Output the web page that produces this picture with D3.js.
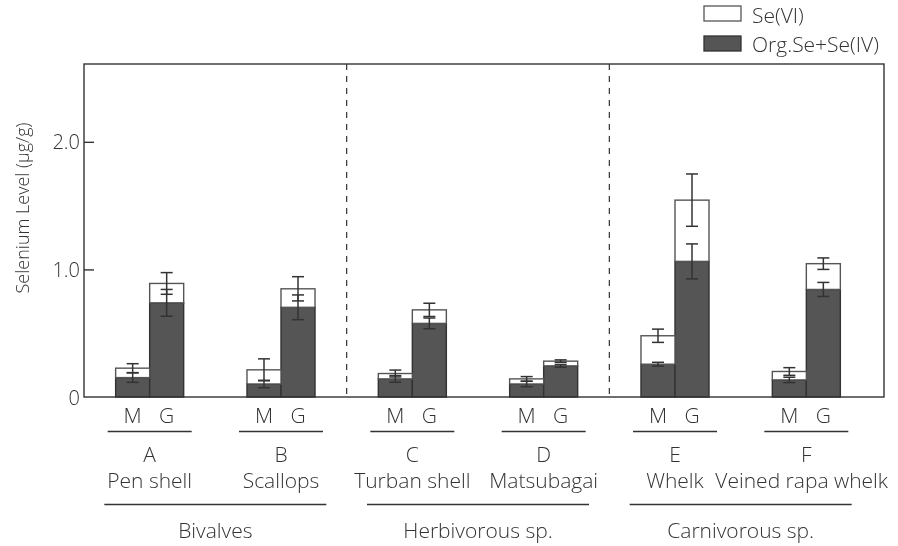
<!DOCTYPE html>
<html>
<head>
<meta charset="utf-8">
<script src="https://cdn.jsdelivr.net/npm/d3@7"></script>
<style>
body { margin: 0; background: #fff; }
svg { will-change: transform; -webkit-font-smoothing: antialiased; }
text { font-family: "Open Sans", sans-serif; font-weight: 300; fill: #333; }
</style>
</head>
<body>
<div id="chart"></div>
<script>
// data
var species = ["A", "B", "C", "D", "E", "F"];
var speciesNames = ["Pen shell", "Scallops", "Turban shell", "Matsubagai", "Whelk", "Veined rapa whelk"];
var tissues = ["M", "G"];
var groups = ["Bivalves", "Herbivorous sp.", "Carnivorous sp."];
var groupMembers = [["A", "B"], ["C", "D"], ["E", "F"]];
var seriesNames = ["Se(VI)", "Org.Se+Se(IV)"];

// Org.Se+Se(IV) (dark part), M and G
var orgM = [0.152, 0.102, 0.142, 0.102, 0.257, 0.134];
var orgG = [0.738, 0.703, 0.577, 0.244, 1.063, 0.843];
// Se(VI) (white part stacked on top)
var seviM = [0.074, 0.111, 0.042, 0.040, 0.223, 0.066];
var seviG = [0.152, 0.145, 0.106, 0.037, 0.480, 0.202];
// error bars: on the dark part and on the total
var orgErrM = [0.037, 0.029, 0.026, 0.021, 0.015, 0.021];
var orgErrG = [0.105, 0.097, 0.042, 0.010, 0.137, 0.055];
var totErrM = [0.035, 0.086, 0.027, 0.018, 0.052, 0.030];
var totErrG = [0.085, 0.095, 0.052, 0.010, 0.205, 0.045];

var yTicks = [0, 1, 2];

var W = 898, H = 546;
var frame = {left: 84, right: 884, top: 64, bottom: 397};

var svg = d3.select("#chart").append("svg")
    .attr("width", W)
    .attr("height", H);

// build rows, one per bar
var rows = [];
species.forEach(function(s, i) {
  rows.push({species: s, tissue: "M", org: orgM[i], sevi: seviM[i], orgErr: orgErrM[i], totErr: totErrM[i]});
  rows.push({species: s, tissue: "G", org: orgG[i], sevi: seviG[i], orgErr: orgErrG[i], totErr: totErrG[i]});
});

// scales
var x0 = d3.scaleBand()
    .domain(species)
    .range([frame.left, frame.left + 788])
    .paddingInner(0.482)
    .paddingOuter(0.241);
var x1 = d3.scaleBand()
    .domain(tissues)
    .range([0, x0.bandwidth()]);
var y = d3.scaleLinear()
    .domain([0, 2.61])
    .range([frame.bottom, frame.top]);

// dashed separators between the groups
var sepX = [
  (x0("B") + x0.bandwidth() + x0("C")) / 2,
  (x0("D") + x0.bandwidth() + x0("E")) / 2
];
svg.selectAll("line.sep")
  .data(sepX)
  .enter().append("line")
    .attr("x1", function(d) { return d; })
    .attr("x2", function(d) { return d; })
    .attr("y1", frame.top)
    .attr("y2", frame.bottom)
    .attr("stroke", "#333")
    .attr("stroke-width", 1.2)
    .attr("stroke-dasharray", "6,6");

// stacked bars
var stacked = d3.stack().keys(["org", "sevi"])(rows);
var fills = {org: "#555555", sevi: "#ffffff"};
var strokes = {org: "#333333", sevi: "#555555"};

svg.append("g")
  .selectAll("g")
  .data(stacked)
  .enter().append("g")
    .attr("fill", function(d) { return fills[d.key]; })
    .attr("stroke", function(d) { return strokes[d.key]; })
    .attr("stroke-width", 1.4)
    .selectAll("rect")
    .data(function(d) { return d; })
    .enter().append("rect")
      .attr("x", function(d) { return x0(d.data.species) + x1(d.data.tissue); })
      .attr("y", function(d) { return y(d[1]); })
      .attr("width", x1.bandwidth())
      .attr("height", function(d) { return y(d[0]) - y(d[1]); });

// error bars
var errs = [];
rows.forEach(function(r) {
  errs.push({r: r, v: r.org, e: r.orgErr});
  errs.push({r: r, v: r.org + r.sevi, e: r.totErr});
});
var capW = 12;
var eg = svg.append("g")
    .attr("stroke", "#333")
    .attr("stroke-width", 1.5)
  .selectAll("g")
  .data(errs)
  .enter().append("g")
    .attr("transform", function(d) {
      return "translate(" + (x0(d.r.species) + x1(d.r.tissue) + x1.bandwidth() / 2) + ",0)";
    });
eg.append("line")
    .attr("y1", function(d) { return y(d.v - d.e); })
    .attr("y2", function(d) { return y(d.v + d.e); });
eg.append("line")
    .attr("x1", -capW / 2).attr("x2", capW / 2)
    .attr("y1", function(d) { return y(d.v + d.e); })
    .attr("y2", function(d) { return y(d.v + d.e); });
eg.append("line")
    .attr("x1", -capW / 2).attr("x2", capW / 2)
    .attr("y1", function(d) { return y(d.v - d.e); })
    .attr("y2", function(d) { return y(d.v - d.e); });

// frame
svg.append("rect")
    .attr("x", frame.left)
    .attr("y", frame.top)
    .attr("width", frame.right - frame.left)
    .attr("height", frame.bottom - frame.top)
    .attr("fill", "none")
    .attr("stroke", "#333")
    .attr("stroke-width", 1.4);

// y axis, ticks pointing inward
var yAxis = svg.append("g")
    .attr("transform", "translate(" + frame.left + ",0)")
    .call(d3.axisLeft(y)
      .tickValues(yTicks)
      .tickSizeInner(-10)
      .tickSizeOuter(0)
      .tickPadding(4)
      .tickFormat(function(d) { return d === 0 ? "0" : d3.format(".1f")(d); }));
yAxis.select(".domain").remove();
yAxis.selectAll("line").attr("stroke", "#333").attr("stroke-width", 1.4)
  .filter(function(d) { return d === 0; }).remove();
yAxis.selectAll("text")
    .style("font-size", "20px")
    .attr("fill", "#333")
    .attr("dy", "0.35em");

svg.append("text")
    .attr("transform", "rotate(-90)")
    .attr("x", -208)
    .attr("y", 29)
    .attr("text-anchor", "middle")
    .style("font-size", "18px")
    .text("Selenium Level (\u03bcg/g)");

// category labels under the axis
var lab = svg.append("g").style("font-size", "21px").attr("text-anchor", "middle");
rows.forEach(function(r) {
  lab.append("text")
    .attr("x", x0(r.species) + x1(r.tissue) + x1.bandwidth() / 2)
    .attr("y", 423)
    .text(r.tissue);
});
species.forEach(function(s, i) {
  var cx = x0(s) + x0.bandwidth() / 2;
  svg.append("line")
    .attr("x1", cx - 42).attr("x2", cx + 42)
    .attr("y1", 431.5).attr("y2", 431.5)
    .attr("stroke", "#333").attr("stroke-width", 1.3);
  lab.append("text").attr("x", cx).attr("y", 462).text(s);
  var t = lab.append("text").attr("x", cx).attr("y", 488).text(speciesNames[i]);
  // keep long names inside the page
  var half = t.node().getComputedTextLength() / 2;
  if (cx + half > W - 10) t.attr("x", W - 10 - half);
});
groups.forEach(function(g, i) {
  var a = x0(groupMembers[i][0]) + x0.bandwidth() / 2;
  var b = x0(groupMembers[i][1]) + x0.bandwidth() / 2;
  var cx = (a + b) / 2;
  svg.append("line")
    .attr("x1", cx - 111).attr("x2", cx + 111)
    .attr("y1", 504.5).attr("y2", 504.5)
    .attr("stroke", "#333").attr("stroke-width", 1.3);
  lab.append("text").attr("x", cx).attr("y", 538).text(g);
});

// legend
var leg = svg.append("g").attr("transform", "translate(704,6)");
var legItems = leg.selectAll("g")
  .data(seriesNames)
  .enter().append("g")
    .attr("transform", function(d, i) { return "translate(0," + (i * 30) + ")"; });
legItems.append("rect")
    .attr("width", 37)
    .attr("height", 15)
    .attr("fill", function(d, i) { return i === 0 ? fills.sevi : fills.org; })
    .attr("stroke", function(d, i) { return i === 0 ? strokes.sevi : strokes.org; })
    .attr("stroke-width", 1.3);
legItems.append("text")
    .attr("x", 48)
    .attr("y", function(d, i) { return i === 0 ? 17 : 15.5; })
    .style("font-size", "21px")
    .text(function(d) { return d; });
</script>
</body>
</html>
